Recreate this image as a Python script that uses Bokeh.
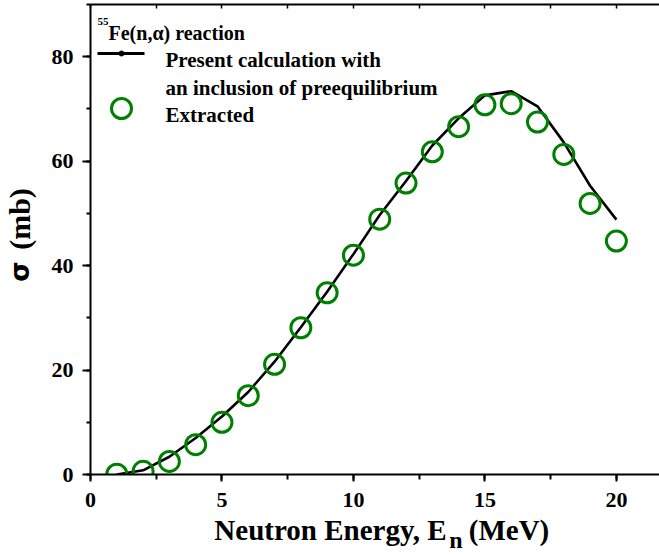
from bokeh.plotting import figure
from bokeh.models import (Range1d, LinearAxis, SingleIntervalTicker, FixedTicker,
                          Label)
from bokeh.embed import file_html
from bokeh.resources import INLINE

# Neutron energy grid (MeV)
energy = [1, 2, 3, 4, 5, 6, 7, 8, 9, 10, 11, 12, 13, 14, 15, 16, 17, 18, 19, 20]

# 55Fe(n,alpha) cross section (mb): model calculation including preequilibrium
sigma_calc = [0.0, 0.8, 3.4, 7.0, 11.1, 15.8, 21.6, 28.2, 35.0, 42.2,
              49.7, 56.2, 63.0, 68.2, 72.6, 73.4, 70.5, 63.6, 55.3, 48.8]

# Extracted cross sections (mb)
sigma_extracted = [0.05, 0.6, 2.5, 5.7, 10.0, 15.1, 21.1, 28.1, 34.8, 42.0,
                   48.9, 55.8, 61.8, 66.6, 70.8, 71.0, 67.5, 61.3, 51.9, 44.7]

W, H = 659, 555
LEFT, TOP, BOTTOM = 90, 4, 81
X_MAX, Y_MAX = 21.64, 90

SERIF = "Liberation Serif"
GREEN = "#008000"


def sx(px):
    """Canvas pixel column -> x data value."""
    return round((px - LEFT) / (W - LEFT) * X_MAX, 3)


def sy(py):
    """Canvas pixel row -> y data value."""
    return round((H - BOTTOM - py) / (H - BOTTOM - TOP) * Y_MAX, 3)


p = figure(width=W, height=H,
           x_range=Range1d(0, X_MAX), y_range=Range1d(0, Y_MAX),
           output_backend="svg", toolbar_location=None,
           min_border_left=LEFT, min_border_top=TOP,
           min_border_bottom=BOTTOM, min_border_right=0)
p.outline_line_color = None
p.grid.visible = False
p.background_fill_color = "white"
p.border_fill_color = "white"

# bottom axis
xa = p.xaxis[0]
xa.ticker = SingleIntervalTicker(interval=5, num_minor_ticks=2)
xa.axis_line_width = 2
xa.major_tick_line_width = 2
xa.minor_tick_line_width = 2
xa.major_tick_in = 0
xa.major_tick_out = 7
xa.minor_tick_in = 0
xa.minor_tick_out = 5
xa.major_label_standoff = 11
xa.major_label_text_font = SERIF
xa.major_label_text_font_style = "bold"
xa.major_label_text_font_size = "22px"
xa.major_label_text_color = "black"

# left axis
ya = p.yaxis[0]
ya.ticker = SingleIntervalTicker(interval=20, num_minor_ticks=2)
ya.axis_line_width = 2
ya.major_tick_line_width = 2
ya.minor_tick_line_width = 2
ya.major_tick_in = 0
ya.major_tick_out = 8
ya.minor_tick_in = 0
ya.minor_tick_out = 4
ya.major_label_standoff = 9
ya.major_label_text_font = SERIF
ya.major_label_text_font_style = "bold"
ya.major_label_text_font_size = "22px"
ya.major_label_text_color = "black"

# top frame edge with small inward ticks, unlabelled
top_ticks = [2.5 * i for i in range(9)]
top = LinearAxis(ticker=FixedTicker(ticks=top_ticks),
                 major_label_overrides={t: "" for t in top_ticks},
                 major_tick_in=4, major_tick_out=0,
                 minor_tick_in=0, minor_tick_out=0,
                 axis_line_width=2, major_tick_line_width=1.5,
                 major_label_standoff=0)
p.add_layout(top, "above")


def title_axis(ticks, labels, font, size, standoff, orientation="horizontal"):
    """Axis without line or ticks, used only to set title pieces in the margin."""
    return LinearAxis(ticker=FixedTicker(ticks=ticks),
                      major_label_overrides=dict(zip(ticks, labels)),
                      axis_line_color=None,
                      major_tick_line_color=None, minor_tick_line_color=None,
                      major_tick_in=0, major_tick_out=0,
                      minor_tick_in=0, minor_tick_out=0,
                      major_label_standoff=standoff,
                      major_label_orientation=orientation,
                      major_label_text_font=font,
                      major_label_text_font_style="bold",
                      major_label_text_font_size=size,
                      major_label_text_color="black")


# x title: "Neutron Energy, E" + subscript "n" + "(MeV)"
p.add_layout(title_axis([sx(455.5)], ["n"], SERIF, "24px", 17), "below")
p.add_layout(title_axis([sx(330), sx(508.5)], ["Neutron Energy, E", "(MeV)"],
                        SERIF, "29px", -42), "below")

# y title: "σ (mb)"
p.add_layout(title_axis([sy(218.5)], ["(mb)"], SERIF, "30px", 12, "vertical"), "left")
p.add_layout(title_axis([sy(271)], ["\u03c3"], "DejaVu Sans", "26px", -35, "vertical"),
             "left")

# data
p.line(energy, sigma_calc, line_color="black", line_width=2.6)
p.scatter(energy, sigma_extracted, marker="circle", size=20,
          fill_color=None, line_color=GREEN, line_width=3)


def text(x, y, s, size):
    p.add_layout(Label(x=x, y=y, text=s, text_font=SERIF, text_font_style="bold",
                       text_font_size=size, text_color="black",
                       text_align="left", text_baseline="alphabetic"))


# legend block
text(sx(97), sy(21), "55", "11px")
text(sx(108), sy(33), "Fe(n,\u03b1) reaction", "20px")
p.line([sx(97), sx(144)], [sy(53), sy(53)], line_color="black", line_width=3)
p.scatter([sx(121)], [sy(53)], marker="circle", size=5, color="black")
text(sx(165), sy(59.5), "Present calculation with", "21px")
text(sx(165), sy(87), "an inclusion of preequilibrium", "21px")
p.scatter([sx(121)], [sy(108)], marker="circle", size=20,
          fill_color=None, line_color=GREEN, line_width=3)
text(sx(165), sy(114), "Extracted", "21px")

open("out.html", "w").write(file_html(p, INLINE))
